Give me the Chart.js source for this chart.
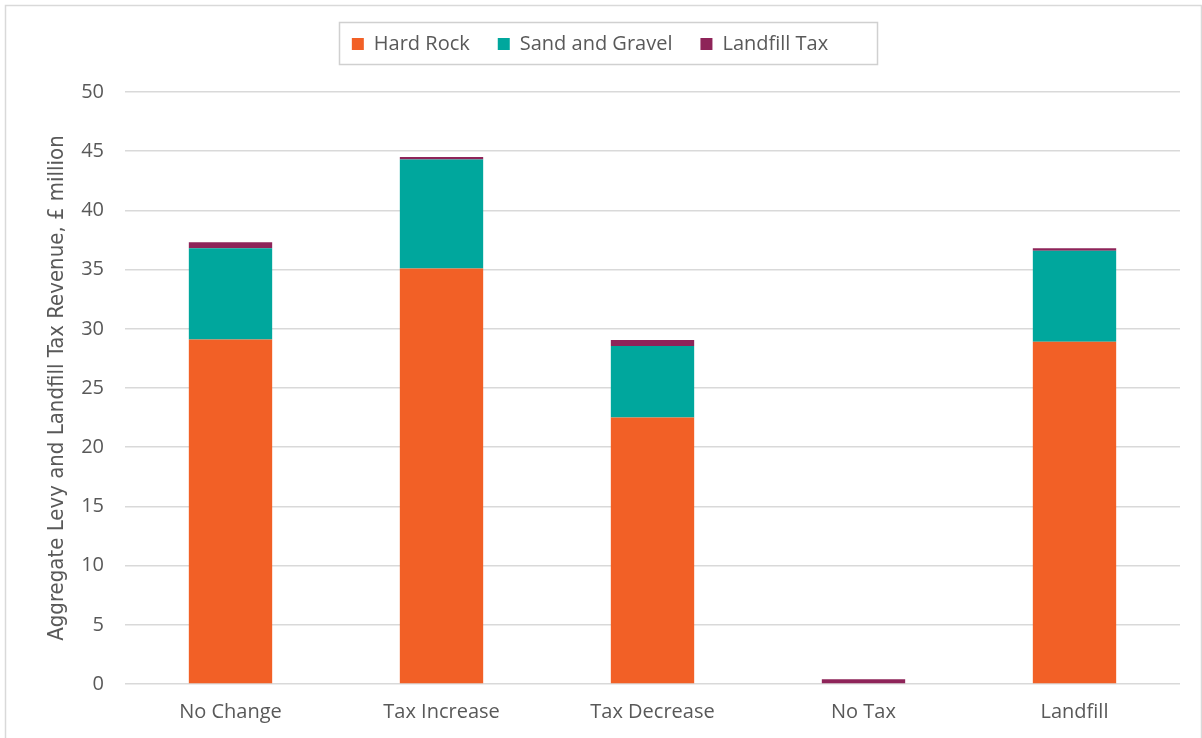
<!DOCTYPE html>
<html>
<head>
<meta charset="utf-8">
<script src="https://cdn.jsdelivr.net/npm/chart.js@4"></script>
<style>
  html, body { margin: 0; padding: 0; background: #fff; }
  #wrap { position: absolute; left: 0; top: 0; width: 1202px; height: 738px; }
</style>
</head>
<body>
<div id="wrap"><canvas id="chart"></canvas></div>
<script>
const scenarios = ['No Change', 'Tax Increase', 'Tax Decrease', 'No Tax', 'Landfill'];
const hardRock = [29.1, 35.1, 22.5, 0, 28.9];
const sandGravel = [7.7, 9.2, 6.05, 0, 7.7];
const landfillTax = [0.5, 0.2, 0.5, 0.4, 0.2];
const yTicks = [0, 5, 10, 15, 20, 25, 30, 35, 40, 45, 50];

const textColor = '#595959';
const fontFamily = "'Open Sans', 'Liberation Sans', sans-serif";
const titleFamily = "'Liberation Sans Narrow', 'DejaVu Sans Condensed', 'Liberation Sans', sans-serif";

// frame around the chart + border around the legend, extra gap under legend
const framePlugin = {
  id: 'frame',
  beforeInit(chart) {
    const lg = chart.legend;
    const origFit = lg.fit;
    lg.fit = function () {
      origFit.call(this);
      this.height += 28;
    };
  },
  afterDraw(chart) {
    const ctx = chart.ctx;
    ctx.save();
    ctx.strokeStyle = '#d9d9d9';
    ctx.lineWidth = 1.5;
    ctx.strokeRect(5.5, 5.5, 1196, 740);
    ctx.strokeStyle = '#d0d0d0';
    ctx.strokeRect(339.5, 22.5, 538, 42);
    ctx.restore();
  }
};

new Chart(document.getElementById('chart'), {
  type: 'bar',
  data: {
    labels: scenarios,
    datasets: [
      { label: 'Hard Rock', data: hardRock, backgroundColor: '#F26026' },
      { label: 'Sand and Gravel', data: sandGravel, backgroundColor: '#00A79D' },
      { label: 'Landfill Tax', data: landfillTax, backgroundColor: '#8E2459' }
    ]
  },
  options: {
    responsive: true,
    maintainAspectRatio: false,
    animation: false,
    layout: { padding: { left: 0, right: 22, top: 6, bottom: 6 } },
    datasets: { bar: { categoryPercentage: 1, barPercentage: 0.395 } },
    plugins: {
      tooltip: { enabled: false },
      legend: {
        position: 'top',
        labels: {
          color: textColor,
          font: { family: fontFamily, size: 20 },
          boxWidth: 12,
          boxHeight: 12,
          padding: 28
        }
      }
    },
    scales: {
      x: {
        stacked: true,
        grid: { display: false },
        border: { display: false },
        ticks: { color: textColor, font: { family: fontFamily, size: 20 }, padding: 8 }
      },
      y: {
        stacked: true,
        min: 0,
        max: 50,
        afterBuildTicks(axis) { axis.ticks = yTicks.map(v => ({ value: v })); },
        afterFit(axis) { axis.width = 125; },
        grid: { color: '#d9d9d9', lineWidth: 1.5, drawTicks: false },
        border: { display: false },
        ticks: { color: textColor, font: { family: fontFamily, size: 20 }, padding: 21 },
        title: {
          display: true,
          text: 'Aggregate Levy and Landfill Tax Revenue, £ million',
          color: textColor,
          font: { family: titleFamily, size: 22 },
          padding: { top: 44, bottom: 0 }
        }
      }
    }
  },
  plugins: [framePlugin]
});
</script>
</body>
</html>
